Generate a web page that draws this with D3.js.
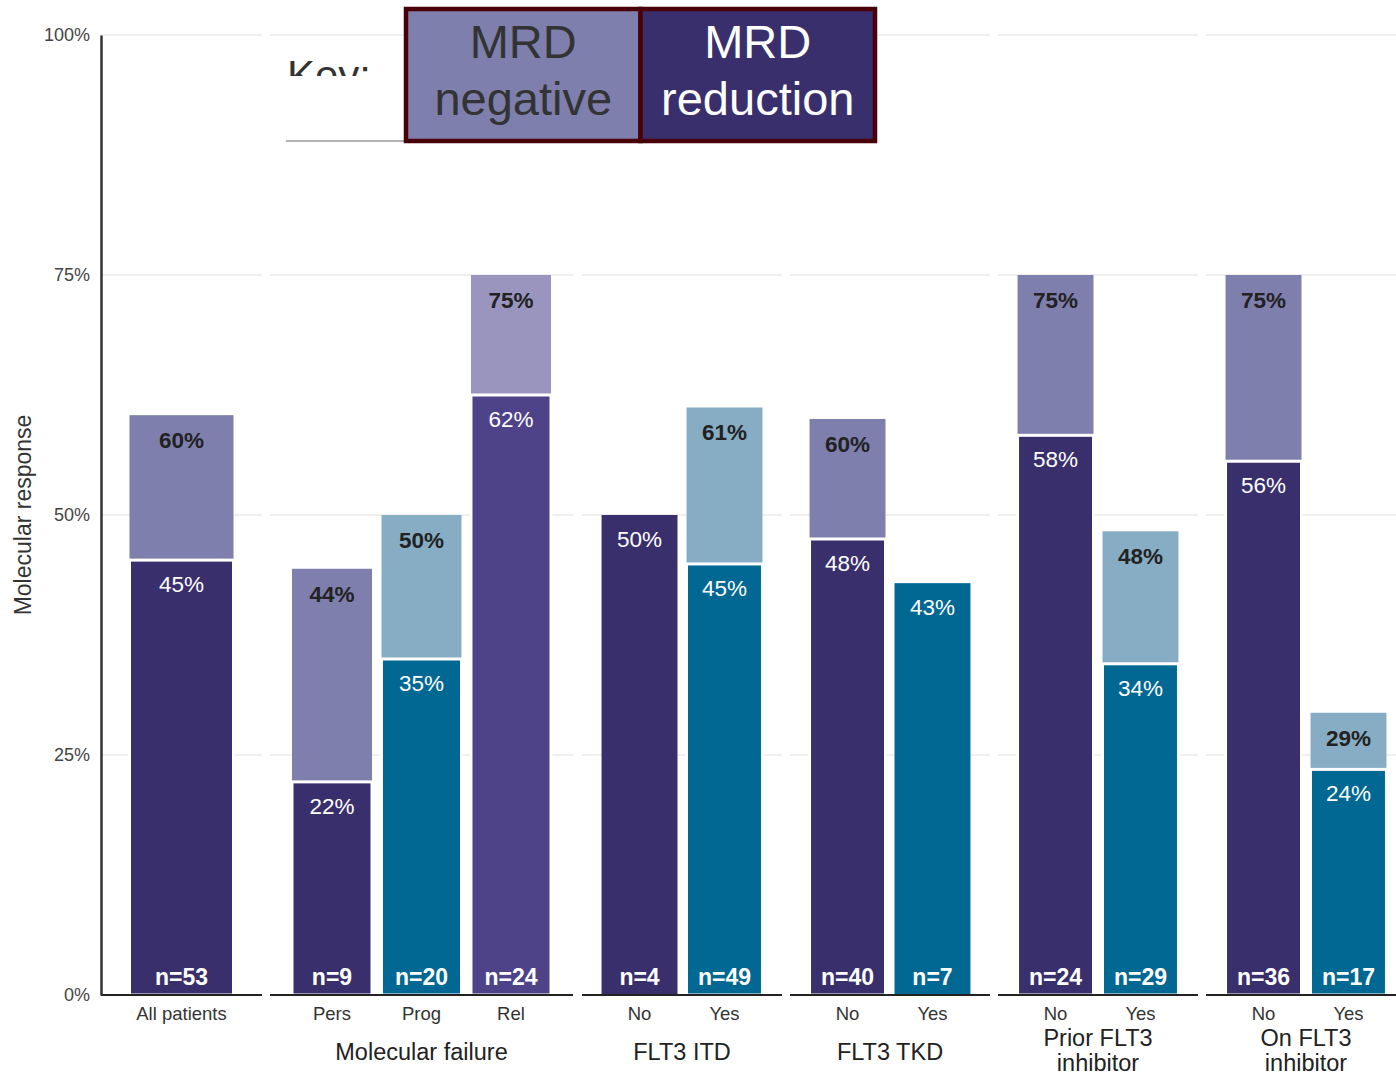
<!DOCTYPE html>
<html>
<head>
<meta charset="utf-8">
<script src="https://cdn.jsdelivr.net/npm/d3@7"></script>
<style>
  html, body { margin: 0; padding: 0; background: #fff; }
  svg { display: block; font-family: "Liberation Sans", Arial, sans-serif; }
</style>
</head>
<body>
<svg id="chart" width="1396" height="1076"></svg>
<script>
// ---------- data ----------
const categories = ["All patients", "Pers", "Prog", "Rel", "No", "Yes", "No", "Yes", "No", "Yes", "No", "Yes"];
const groupOf    = [0, 1, 1, 1, 2, 2, 3, 3, 4, 4, 5, 5];
const groupNames = ["", "Molecular failure", "FLT3 ITD", "FLT3 TKD", "Prior FLT3\ninhibitor", "On FLT3\ninhibitor"];
// bar heights (%)
const reduction  = [45.3, 22.2, 35, 62.5, 50, 44.9, 47.5, 42.9, 58.3, 34.5, 55.6, 23.5];
const negative   = [60.4, 44.4, 50, 75, null, 61.2, 60, null, 75, 48.3, 75, 29.4];
// printed labels
const reductionLabels = ["45%", "22%", "35%", "62%", "50%", "45%", "48%", "43%", "58%", "34%", "56%", "24%"];
const negativeLabels  = ["60%", "44%", "50%", "75%", null, "61%", "60%", null, "75%", "48%", "75%", "29%"];
const nCounts    = [53, 9, 20, 24, 4, 49, 40, 7, 24, 29, 36, 17];
const barKind    = ["purple", "purple", "teal", "violet", "purple", "teal", "purple", "teal", "purple", "teal", "purple", "teal"];
const yTicks     = [0, 25, 50, 75, 100];
const legendItems = ["MRD\nnegative", "MRD\nreduction"];

// ---------- styles ----------
const palette = {
  purple: { red: "#3a2f6d", neg: "#7e7fad" },
  teal:   { red: "#006893", neg: "#87adc5" },
  violet: { red: "#4e4389", neg: "#9a95bf" }
};
const groupRanges = [[101, 262], [270, 573], [582, 782], [790, 990], [998, 1198], [1206, 1406]];

const svg = d3.select("#chart");
const y = d3.scaleLinear().domain([0, 100]).range([995, 35]);

// per-group band scales
const groupScales = groupRanges.map((r, gi) => {
  const cats = d3.range(categories.length).filter(i => groupOf[i] === gi);
  const s = d3.scaleBand().domain(cats).range(r);
  if (cats.length === 1) s.paddingInner(0).paddingOuter(0.274);
  else if (cats.length === 3) s.paddingInner(0.106).paddingOuter(0.246);
  else s.paddingInner(0.106).paddingOuter(0.23);
  return s;
});
const xPos = i => groupScales[groupOf[i]](i);
const bw = i => groupScales[groupOf[i]].bandwidth();

// gridlines per group
const grid = svg.append("g");
groupRanges.forEach(r => {
  yTicks.filter(t => t > 0).forEach(t => {
    grid.append("line")
      .attr("x1", r[0]).attr("x2", r[1])
      .attr("y1", y(t)).attr("y2", y(t))
      .attr("stroke", "#efefef").attr("stroke-width", 2);
  });
});

// bars
const bars = svg.append("g");
const idx = d3.range(categories.length);
idx.forEach(i => {
  const pal = palette[barKind[i]];
  if (negative[i] != null) {
    bars.append("rect")
      .attr("x", xPos(i)).attr("width", bw(i))
      .attr("y", y(negative[i])).attr("height", y(reduction[i]) - y(negative[i]))
      .attr("fill", pal.neg);
  }
  bars.append("rect")
    .attr("x", xPos(i)).attr("width", bw(i))
    .attr("y", y(reduction[i])).attr("height", y(0) - y(reduction[i]))
    .attr("fill", pal.red)
    .attr("stroke", negative[i] != null ? "#fff" : "none")
    .attr("stroke-width", 3);
});

// value labels
const labels = svg.append("g").attr("text-anchor", "middle");
idx.forEach(i => {
  const cx = xPos(i) + bw(i) / 2;
  if (negative[i] != null) {
    labels.append("text")
      .attr("x", cx).attr("y", y(negative[i]) + 33)
      .attr("font-size", 22.5).attr("font-weight", "bold").attr("fill", "#222")
      .text(negativeLabels[i]);
  }
  labels.append("text")
    .attr("x", cx).attr("y", y(reduction[i]) + 32)
    .attr("font-size", 22.5).attr("fill", "#fff")
    .text(reductionLabels[i]);
  labels.append("text")
    .attr("x", cx).attr("y", y(0) - 10)
    .attr("font-size", 23).attr("font-weight", "bold").attr("fill", "#fff")
    .text("n=" + nCounts[i]);
});

// baseline segments per group
groupRanges.forEach(r => {
  svg.append("line")
    .attr("x1", r[0]).attr("x2", r[1])
    .attr("y1", y(0)).attr("y2", y(0))
    .attr("stroke", "#222").attr("stroke-width", 2);
});

// y axis
const yAxis = d3.axisLeft(y).tickValues(yTicks).tickSize(0).tickPadding(11).tickFormat(d => d + "%");
const yg = svg.append("g").attr("transform", "translate(101,0)").call(yAxis);
yg.select(".domain").attr("stroke", "#333").attr("stroke-width", 2.5);
yg.selectAll("text").attr("font-size", 18).attr("fill", "#444")
  .attr("font-family", "Liberation Sans, Arial, sans-serif");

svg.append("text")
  .attr("transform", "translate(31,515) rotate(-90)")
  .attr("text-anchor", "middle").attr("font-size", 23).attr("fill", "#333")
  .text("Molecular response");

// category labels
idx.forEach(i => {
  svg.append("text")
    .attr("x", xPos(i) + bw(i) / 2).attr("y", 1020)
    .attr("text-anchor", "middle").attr("font-size", 18.5).attr("fill", "#333")
    .text(categories[i]);
});

// group labels
groupNames.forEach((g, gi) => {
  if (!g) return;
  const cats = idx.filter(i => groupOf[i] === gi);
  const cx = (xPos(cats[0]) + xPos(cats[cats.length - 1]) + bw(cats[0])) / 2;
  const lines = g.split("\n");
  const t = svg.append("text").attr("text-anchor", "middle").attr("font-size", 23.5).attr("fill", "#222");
  lines.forEach((ln, k) => {
    t.append("tspan").attr("x", cx)
      .attr("y", lines.length === 1 ? 1060 : 1046 + k * 25)
      .text(ln);
  });
});

// clipped "Key:" artifact
const defs = svg.append("defs");
defs.append("clipPath").attr("id", "keyclip")
  .append("rect").attr("x", 280).attr("y", 40).attr("width", 124).attr("height", 36);
svg.append("text")
  .attr("x", 287).attr("y", 90)
  .attr("font-size", 42).attr("fill", "#333")
  .attr("clip-path", "url(#keyclip)")
  .text("Key:");
svg.append("line").attr("x1", 286).attr("x2", 404).attr("y1", 141).attr("y2", 141)
  .attr("stroke", "#999").attr("stroke-width", 1.5);

// legend boxes
const legendFill = [palette.purple.neg, palette.purple.red];
const legendText = ["#333", "#fff"];
const lx = d3.scaleBand().domain(d3.range(legendItems.length)).range([406, 875]);
legendItems.forEach((item, k) => {
  svg.append("rect")
    .attr("x", lx(k)).attr("y", 9).attr("width", lx.bandwidth()).attr("height", 132)
    .attr("fill", legendFill[k]).attr("stroke", "#4a0008").attr("stroke-width", 4.5);
  const lines = item.split("\n");
  const t = svg.append("text").attr("text-anchor", "middle").attr("font-size", 47).attr("fill", legendText[k]);
  lines.forEach((ln, j) => {
    t.append("tspan").attr("x", lx(k) + lx.bandwidth() / 2).attr("y", 58 + j * 57).text(ln);
  });
});
</script>
</body>
</html>
